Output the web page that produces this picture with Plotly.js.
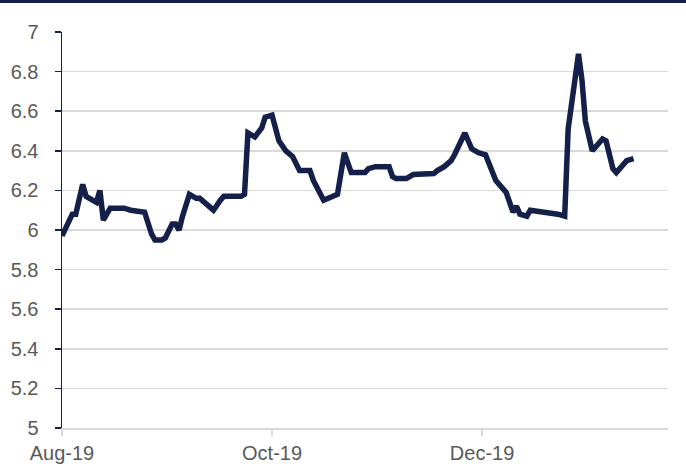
<!DOCTYPE html>
<html>
<head>
<meta charset="utf-8">
<script src="https://cdn.plot.ly/plotly-3.0.1.min.js"></script>
<style>
html,body{margin:0;padding:0;background:#fff;}
#chart{width:686px;height:473px;}
</style>
</head>
<body>
<div id="chart"></div>
<script>
var dates = [
 "2019-08-01","2019-08-03","2019-08-04","2019-08-05","2019-08-07","2019-08-08","2019-08-11","2019-08-12","2019-08-13","2019-08-15",
 "2019-08-19","2019-08-21","2019-08-25","2019-08-27","2019-08-28","2019-08-30","2019-08-31","2019-09-02","2019-09-03","2019-09-04",
 "2019-09-05","2019-09-07","2019-09-09","2019-09-10","2019-09-12","2019-09-14","2019-09-16","2019-09-17","2019-09-22","2019-09-23",
 "2019-09-24","2019-09-26","2019-09-28","2019-09-29","2019-10-01","2019-10-03","2019-10-05","2019-10-07","2019-10-09","2019-10-12",
 "2019-10-13","2019-10-14","2019-10-16","2019-10-20","2019-10-22","2019-10-24","2019-10-28","2019-10-29","2019-10-31","2019-11-04",
 "2019-11-05","2019-11-06","2019-11-07","2019-11-09","2019-11-11","2019-11-13","2019-11-17","2019-11-18","2019-11-20","2019-11-22",
 "2019-11-23","2019-11-26","2019-11-28","2019-11-30","2019-12-02","2019-12-05","2019-12-08","2019-12-10","2019-12-11","2019-12-12",
 "2019-12-14","2019-12-15","2019-12-20","2019-12-23","2019-12-25","2019-12-26","2019-12-29","2019-12-30","2019-12-31","2020-01-02",
 "2020-01-05","2020-01-06","2020-01-08","2020-01-09","2020-01-12","2020-01-14"
];
var values = [
 5.97,6.05,6.08,6.08,6.23,6.17,6.14,6.20,6.05,6.11,
 6.11,6.10,6.09,5.98,5.95,5.95,5.96,6.03,6.03,6.00,
 6.07,6.18,6.16,6.16,6.13,6.10,6.15,6.17,6.17,6.18,
 6.49,6.47,6.515,6.57,6.58,6.45,6.40,6.37,6.30,6.30,
 6.25,6.22,6.15,6.18,6.39,6.29,6.29,6.31,6.32,6.32,
 6.27,6.26,6.26,6.26,6.28,6.28,6.285,6.30,6.32,6.35,
 6.38,6.49,6.41,6.39,6.38,6.25,6.19,6.09,6.12,6.08,
 6.07,6.10,6.09,6.08,6.07,6.51,6.89,6.76,6.55,6.40,
 6.46,6.45,6.31,6.29,6.35,6.36
];
var xTickVals = ["2019-08-01","2019-10-01","2019-12-01"];
var xTickText = ["Aug-19","Oct-19","Dec-19"];

var navy = "#14204a";
var trace = {
  x: dates, y: values, type: "scatter", mode: "lines",
  line: {color: navy, width: 5.5}, hoverinfo: "x+y"
};
var layout = {
  width: 686, height: 473,
  margin: {l: 62, r: 18, t: 32, b: 45},
  paper_bgcolor: "#fff", plot_bgcolor: "#fff",
  showlegend: false,
  font: {family: "Liberation Sans, Arial, sans-serif", size: 20, color: "#595959"},
  xaxis: {
    type: "date",
    range: ["2019-08-01", "2020-01-24"],
    tickmode: "array", tickvals: xTickVals, ticktext: xTickText,
    showgrid: false, zeroline: false,
    showline: true, linecolor: "#d9d9d9", linewidth: 1.5,
    ticks: "outside", ticklen: 6, tickcolor: "#d9d9d9", tickwidth: 1.5,
    tickfont: {size: 20, color: "#595959"}
  },
  yaxis: {
    range: [5, 7], dtick: 0.2, tick0: 5,
    showgrid: true, gridcolor: "#d9d9d9", gridwidth: 1.5,
    zeroline: false,
    showline: true, linecolor: navy, linewidth: 1.5,
    ticks: "outside", ticklen: 6, tickcolor: navy, tickwidth: 1.5,
    tickfont: {size: 20, color: "#595959"},
    ticklabelstandoff: 12
  },
  shapes: [{
    type: "rect", xref: "paper", yref: "paper",
    x0: -62/606, x1: 1 + 18/606, y0: 1 + 29/396, y1: 1 + 33/396,
    fillcolor: navy, line: {width: 0}
  }]
};
Plotly.newPlot("chart", [trace], layout, {displayModeBar: false, staticPlot: true});
</script>
</body>
</html>
